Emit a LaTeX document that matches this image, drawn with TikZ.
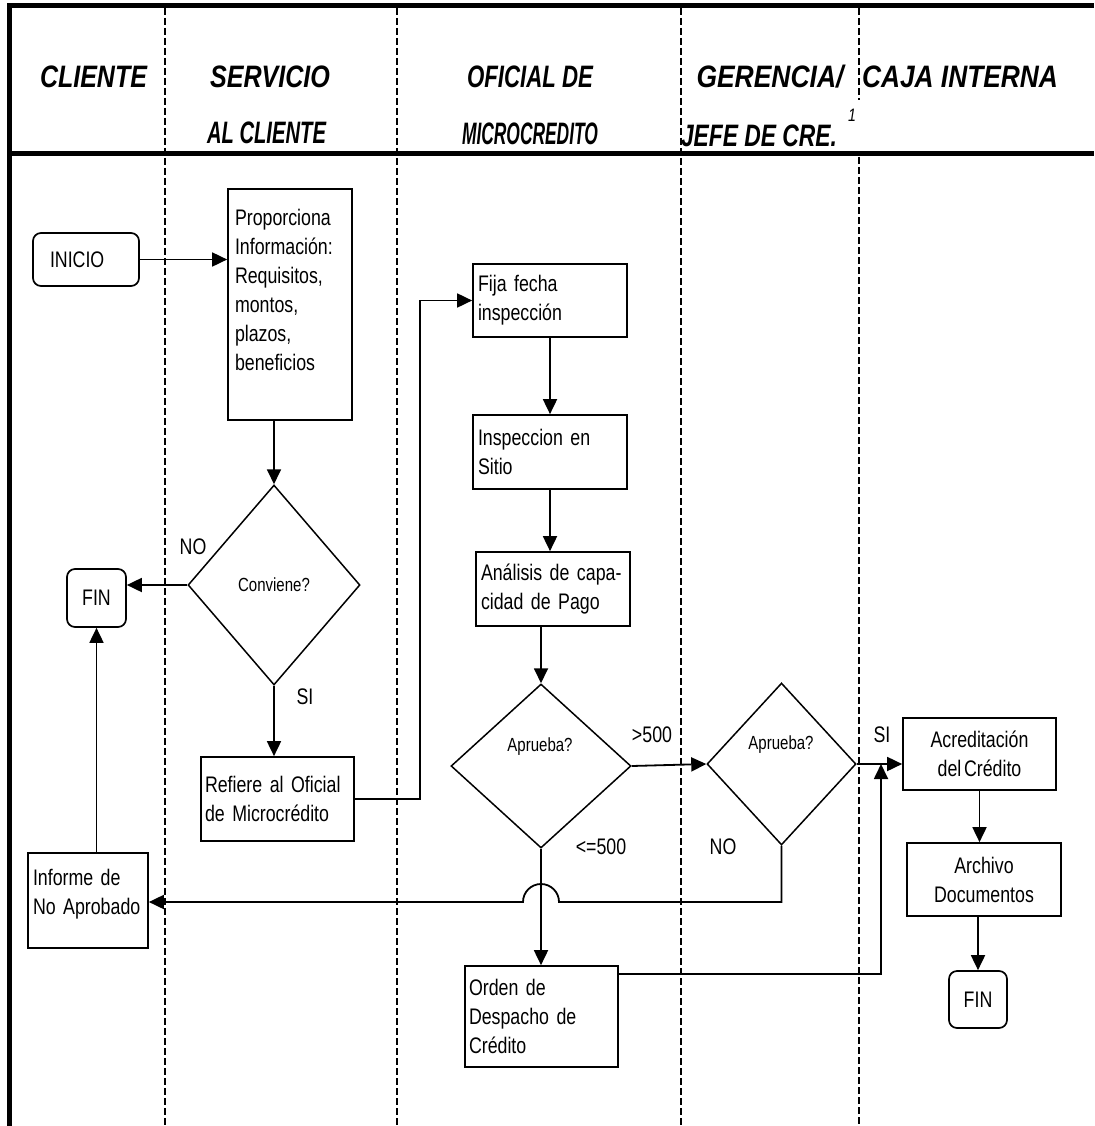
\documentclass[tikz,border=0pt]{standalone}
\usepackage{fontspec}
\setmainfont{Liberation Sans}[FakeStretch=0.79, WordSpace=0.55]
\newfontfamily\hdfam{Liberation Sans}[FakeStretch=0.86]
\usetikzlibrary{arrows.meta,shapes.geometric}
\newcommand\hdtxt[2]{\resizebox{#1}{\height}{#2}}
\newcommand\bodyf{\fontsize{22.5}{29}\selectfont}
\newcommand\diaf{\fontsize{19}{22}\selectfont}
\newcommand\hdf{\hdfam\fontsize{31}{36}\selectfont\bfseries\itshape}
\begin{document}
\begin{tikzpicture}[x=1pt,y=-1pt,
  frame/.style={line width=5pt},
  lane/.style={line width=2pt, dash pattern=on 7pt off 3pt},
  hd/.style={font=\hdf, inner sep=0pt, anchor=base},
  lbox/.style={draw, line width=1.7pt, rectangle, inner xsep=5pt, inner ysep=0pt, align=left, font=\bodyf},
  cbox/.style={draw, line width=1.7pt, rectangle, inner xsep=3pt, inner ysep=0pt, align=center, font=\bodyf},
  term/.style={draw, line width=1.7pt, rectangle, rounded corners=8pt, inner sep=0pt, font=\bodyf},
  dia/.style={draw, diamond, line width=1.5pt, inner sep=0pt, font=\diaf},
  lbl/.style={font=\bodyf, inner sep=0pt},
  dtxt/.style={font=\diaf, inner sep=0pt},
  arr/.style={line width=1.8pt, -{Triangle[length=15pt,width=14pt]}},
  ln/.style={line width=1.8pt}]
\useasboundingbox (0,0) rectangle (1094,1126);
\fill[white] (0,0) rectangle (1094,1126);
% frame
\draw[frame] (9,1126) -- (9,5.5) -- (1094,5.5);
\draw[frame] (9,154) -- (1094,154);
% lanes
\draw[lane] (164.5,8) -- (164.5,1126);
\draw[lane] (396.5,8) -- (396.5,1126);
\draw[lane] (680.5,8) -- (680.5,1126);
\draw[lane] (859,8) -- (859,100);
\draw[lane] (859,157) -- (859,1126);
% headers
\node[hd] (h1) at (93.5,88) {\hdtxt{107pt}{CLIENTE}};
\node[hd] (h2) at (270,88) {\hdtxt{120pt}{SERVICIO}};
\node[hd] (h2b) at (266.5,144) {\hdtxt{119pt}{AL CLIENTE}};
\node[hd] (h3) at (530,88) {\hdtxt{126pt}{OFICIAL DE}};
\node[hd] (h3b) at (530,145) {\hdtxt{136pt}{MICROCREDITO}};
\node[hd] (h4) at (770,88) {\hdtxt{147pt}{GERENCIA/}};
\node[hd] (h4b) at (759,147) {\hdtxt{156pt}{JEFE DE CRE.}};
\node[inner sep=0pt, font=\fontsize{18}{20}\selectfont\itshape] (sup) at (852,115) {1};
\node[hd] (h5) at (960,88) {\hdtxt{196pt}{CAJA INTERNA}};
% nodes
\node[term, minimum width=106pt, minimum height=53pt, text width=72pt, inner xsep=17pt, align=left] (inicio) at (86,259.5) {INICIO};
\node[lbox, minimum width=124pt, text width=110pt, inner xsep=7pt, minimum height=231pt] (prop) at (290,304.5) {Proporciona\\Información:\\Requisitos,\\montos,\\plazos,\\beneficios\\\mbox{}};
\node[dia, minimum width=172pt, minimum height=200pt] (conv) at (274,585) {Conviene?};
\node[term, minimum width=59pt, minimum height=58pt] (fin1) at (96.5,598) {FIN};
\node[lbox, minimum width=153pt, text width=145pt, inner xsep=4pt, minimum height=84pt] (ref) at (277.5,799) {Refiere al Oficial\\de Microcrédito};
\node[lbox, minimum width=154pt, text width=144pt, minimum height=73pt] (fija) at (550,300.5) {Fija fecha\\inspección};
\node[lbox, minimum width=154pt, text width=144pt, minimum height=74pt] (insp) at (550,452) {Inspeccion en\\Sitio};
\node[lbox, minimum width=154pt, text width=144pt, minimum height=74pt] (anal) at (553,589) {Análisis de capa-\\cidad de Pago};
\node[dia, minimum width=180pt, minimum height=164pt] (apr1) at (541,766) {};
\node[dtxt] (apr1t) at (540,747) {Aprueba?};
\node[dia, minimum width=149pt, minimum height=162pt] (apr2) at (781.5,764) {};
\node[dtxt] (apr2t) at (781,745) {Aprueba?};
\node[lbox, minimum width=153pt, text width=145pt, inner xsep=4pt, minimum height=101pt] (orden) at (541.5,1016.5) {Orden de\\Despacho de\\Crédito};
\node[lbox, minimum width=120pt, text width=110pt, minimum height=95pt] (inf) at (88,900.5) {Informe de\\No Aprobado\\[-12pt]\mbox{}};
\node[cbox, minimum width=153pt, minimum height=72pt] (acr) at (979.5,754) {Acreditación\\del Crédito};
\node[cbox, minimum width=154pt, minimum height=73pt] (arch) at (984,879.5) {Archivo\\Documentos};
\node[term, minimum width=58pt, minimum height=57pt] (fin2) at (978,999.5) {FIN};
% labels
\node[lbl] (lno1) at (193,547) {NO};
\node[lbl] (lsi1) at (305,697) {SI};
\node[lbl] (lgt) at (652,735) {>500};
\node[lbl] (lle) at (601,847) {<=500};
\node[lbl] (lno2) at (723,847) {NO};
\node[lbl] (lsi2) at (882,735) {SI};
% connectors
\draw[arr] (inicio.east) -- (inicio.east -| prop.west);
\draw[arr] (conv.north |- prop.south) -- (conv.north);
\draw[arr] (conv.west) -- (conv.west -| fin1.east);
\draw[arr] (conv.south) -- (conv.south |- ref.north);
\draw[arr] (ref.east) -- ++(65,0) |- (fija.west);
\draw[arr] (fija.south) -- (fija.south |- insp.north);
\draw[arr] (insp.south) -- (insp.south |- anal.north);
\draw[arr] (apr1.north |- anal.south) -- (apr1.north);
\draw[arr] (apr1.east) -- (apr2.west);
\draw[arr] (apr1.south) -- (apr1.south |- orden.north);
\coordinate (jy) at (0,902);
\coordinate (jc) at (apr1.south |- jy);
\draw[arr] (apr2.south) |- ([xshift=18pt]jc) arc[start angle=0,end angle=180,radius=18pt] -- (inf.east |- jy);
\coordinate (vx) at (881,0);
\draw[arr] ([yshift=-9pt]orden.north east) -| (vx |- apr2.east);
\draw[arr] (apr2.east) -- (apr2.east -| acr.west);
\draw[arr] (acr.south) -- (acr.south |- arch.north);
\draw[arr] (fin2.north |- arch.south) -- (fin2.north);
\draw[arr] (fin1.south |- inf.north) -- (fin1.south);
\end{tikzpicture}
\end{document}
